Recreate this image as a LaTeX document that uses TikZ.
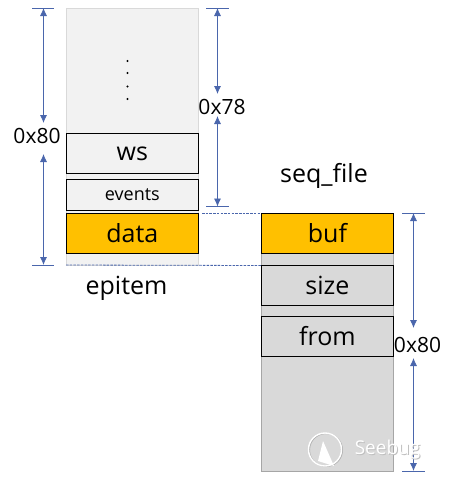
\documentclass[tikz,border=0pt]{standalone}
\usepackage{fontspec}
\setmainfont{Open Sans}
\usetikzlibrary{arrows.meta}
\definecolor{blu}{HTML}{4A66AC}
\definecolor{panelA}{HTML}{F2F2F2}
\definecolor{panelB}{HTML}{D9D9D9}
\definecolor{gold}{HTML}{FFC000}
\tikzset{
  x=1pt,y=-1pt,
  panela/.style={draw=panelB,fill=panelA,line width=.7pt},
  panelb/.style={draw=black!35,fill=panelB,line width=.7pt},
  field/.style={draw=black,line width=.8pt,minimum width=132pt,inner sep=0pt,anchor=north west,font=\fontsize{25}{27}\selectfont},
  lab/.style={inner sep=0pt,font=\fontsize{21}{23}\selectfont,text=black},
  dim/.style={draw=blu,line width=.8pt,{Latex[length=8pt,width=7pt]}-{Latex[length=8pt,width=7pt]}},
  tick/.style={draw=blu,line width=.8pt},
  guide/.style={draw=blu,line width=.8pt,dash pattern=on 2.5pt off 1.2pt},
}
\begin{document}
\begin{tikzpicture}
\useasboundingbox (0,0) rectangle (454,479);
% panels
\fill[panela] (66,8) rectangle (198.5,265);
\fill[panelb] (261.5,213) rectangle (393.5,471);
\draw[panela,fill=none] (66,8) rectangle (198.5,265);
\draw[panelb,fill=none] (261.5,213) rectangle (393.5,471);
% left fields
\node[field,fill=panelA,minimum height=40pt] (ws) at (66,133) {ws};
\node[field,fill=panelA,minimum height=31pt,font=\fontsize{18}{20}\selectfont] (events) at (66,179) {events};
\node[field,fill=gold,minimum height=40pt] (data) at (66,213) {data};
% right fields
\node[field,fill=gold,minimum height=40pt] (buf) at (261,213) {buf};
\node[field,fill=panelB,minimum height=40pt] (size) at (261,265) {size};
\node[field,fill=panelB,minimum height=40pt] (from) at (261,316) {from};
% dots
\foreach \n/\y in {d1/61,d2/73,d3/86.5,d4/99}
  \fill[black] (127.5,\y) circle (1.1pt) node[inner sep=0pt] (\n) {};
% labels
\node[lab] (l80a) at (37,136) {0x80};
\node[lab] (l78) at (222,107) {0x78};
\node[lab] (l80b) at (417.5,345) {0x80};
\node[lab,font=\fontsize{25}{27}\selectfont] (epitem) at (126.5,288) {epitem};
\node[lab,font=\fontsize{25}{27}\selectfont] (seq) at (324,176) {seq\_file};
% dimension ends
\coordinate (a1) at (43.5,8); \coordinate (a2) at (43.5,265);
\coordinate (b1) at (217.5,8); \coordinate (b2) at (217.5,206.5);
\coordinate (c1) at (413.5,213); \coordinate (c2) at (413.5,471);
\coordinate (a1l) at (32,8); \coordinate (a1r) at (54,8);
\coordinate (a2l) at (32,265); \coordinate (a2r) at (54,265);
\coordinate (b1l) at (206,8); \coordinate (b1r) at (229,8);
\coordinate (b2l) at (206,206.5); \coordinate (b2r) at (229,206.5);
\coordinate (c1l) at (402,213); \coordinate (c1r) at (425,213);
\coordinate (c2l) at (402,471); \coordinate (c2r) at (425,471);
\coordinate (g1) at (202,213); \coordinate (g1e) at (261,213);
\coordinate (g2) at (66,265); \coordinate (g2e) at (261,265.5);
% dimension lines
\draw[dim] (a1) -- (a1 |- 0,123);
\draw[dim] (a1 |- 0,154) -- (a2);
\draw[dim] (b1) -- (b1 |- 0,94);
\draw[dim] (b1 |- 0,116) -- (b2);
\draw[dim] (c1) -- (c1 |- 0,328);
\draw[dim] (c1 |- 0,358) -- (c2);
\foreach \p in {a1,a2,b1,b2,c1,c2} \draw[tick] (\p l) -- (\p r);
\draw[guide] (g1) -- (g1e);
\draw[guide] (g2) -- (g2e);
% watermark
\draw[black!30,line width=1pt] (326,450) circle (16.5pt);
\draw[white,line width=1.4pt] (325,449.5) circle (16.5pt);
\fill[white] (323,441) -- (318,461) -- (334,466) -- cycle;
\node[inner sep=0pt,text=black!25,font=\fontsize{19}{21}\selectfont] (markshadow) at (388.5,451) {Seebug};
\node[inner sep=0pt,text=white,font=\fontsize{19}{21}\selectfont] (mark) at (387.5,450) {Seebug};
\end{tikzpicture}
\end{document}
